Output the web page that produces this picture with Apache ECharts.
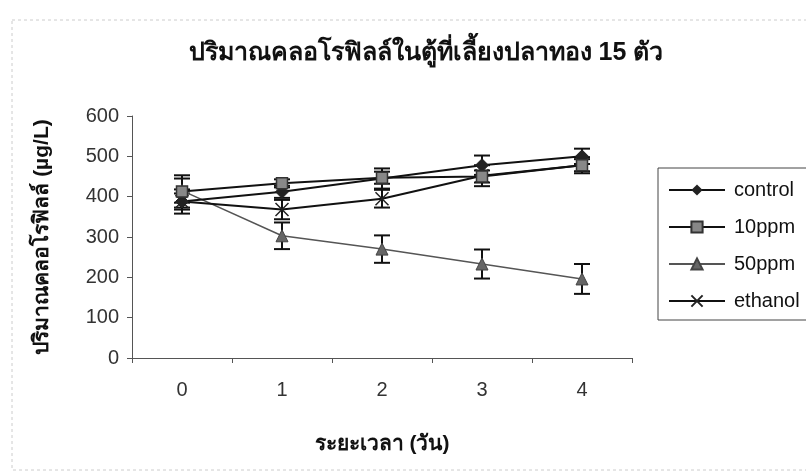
<!DOCTYPE html>
<html><head><meta charset="utf-8">
<script src="https://cdn.jsdelivr.net/npm/echarts@6/dist/echarts.min.js"></script>
<style>html,body{margin:0;padding:0;background:#fff}#c{width:806px;height:474px}</style>
</head><body><div id="c"></div>
<script>
const days = ['0', '1', '2', '3', '4'];
const yTicks = [0, 100, 200, 300, 400, 500, 600];
const seriesNames = ['control', '10ppm', '50ppm', 'ethanol'];
const control = [388, 412, 445, 478, 500];
const ppm10 = [413, 433, 447, 450, 478];
const ppm50 = [415, 303, 270, 233, 196];
const ethanol = [388, 368, 395, 452, 478];
const errControl = [30, 15, 25, 24, 19];
const errPpm10 = [40, 10, 15, 15, 20];
const errPpm50 = [30, 33, 34, 36, 37];
const errEthanol = [20, 24, 22, 26, 15];

const FONT = "'Liberation Sans', Arial, 'DejaVu Sans', 'Noto Sans', sans-serif";
const chart = echarts.init(document.getElementById('c'));

function errSeries(name, vals, errs) {
  return {
    type: 'custom', name: name + ' err', silent: true, z: 3,
    data: vals.map((v, i) => [i, v - errs[i], v + errs[i]]),
    renderItem: function (params, api) {
      const lo = api.coord([api.value(0), api.value(1)]);
      const hi = api.coord([api.value(0), api.value(2)]);
      const w = 8;
      const st = { stroke: '#111', lineWidth: 2 };
      return { type: 'group', children: [
        { type: 'line', shape: { x1: lo[0], y1: lo[1], x2: hi[0], y2: hi[1] }, style: st },
        { type: 'line', shape: { x1: lo[0] - w, y1: lo[1], x2: lo[0] + w, y2: lo[1] }, style: st },
        { type: 'line', shape: { x1: hi[0] - w, y1: hi[1], x2: hi[0] + w, y2: hi[1] }, style: st }
      ]};
    }
  };
}

const xPath = 'path://M0,0L10,10M10,0L0,10';

chart.setOption({
  animation: false,
  backgroundColor: '#fff',
  textStyle: { fontFamily: FONT },
  title: {
    text: 'ปริมาณคลอโรฟิลล์ในตู้ที่เลี้ยงปลาทอง 15 ตัว',
    left: 421, top: 36, textAlign: 'center',
    textStyle: { fontSize: 25, fontWeight: 'bold', color: '#111', fontFamily: FONT }
  },
  grid: { left: 132, right: 174, top: 116, bottom: 116, containLabel: false },
  legend: {
    orient: 'vertical', left: 663, top: 175, itemGap: 17,
    itemWidth: 56, itemHeight: 14, itemAlign: 'left',
    textStyle: { fontSize: 20, color: '#111', fontFamily: FONT, padding: [0, 0, 0, 4] },
    data: seriesNames
  },
  xAxis: {
    type: 'category', data: days, boundaryGap: true,
    name: 'ระยะเวลา (วัน)', nameLocation: 'middle', nameGap: 76,
    nameTextStyle: { fontSize: 21, fontWeight: 'bold', color: '#111', fontFamily: FONT },
    axisLine: { lineStyle: { color: '#555', width: 1 } },
    axisTick: { show: true, length: 5, lineStyle: { color: '#555' } },
    axisLabel: { fontSize: 20, color: '#333', margin: 22 }
  },
  yAxis: {
    type: 'value', min: 0, max: 600, interval: 100,
    name: 'ปริมาณคลอโรฟิลล์ (µg/L)', nameLocation: 'middle', nameGap: 79, nameRotate: 90,
    nameTextStyle: { fontSize: 21, fontWeight: 'bold', color: '#111', fontFamily: FONT },
    axisLine: { show: true, lineStyle: { color: '#555', width: 1 } },
    axisTick: { show: true, inside: false, length: 5, lineStyle: { color: '#555' } },
    splitLine: { show: false },
    axisLabel: { fontSize: 20, color: '#333', margin: 13,
      formatter: v => yTicks.includes(v) ? String(v) : '' }
  },
  graphic: [
    { type: 'rect', shape: { x: 658, y: 168, width: 160, height: 152 },
      style: { fill: 'none', stroke: '#444', lineWidth: 1 }, z: 100 },
    { type: 'rect', shape: { x: 12, y: 20, width: 800, height: 450 },
      style: { fill: 'none', stroke: '#ccc', lineWidth: 1, lineDash: [3, 3] }, z: 0 }
  ],
  series: [
    errSeries('control', control, errControl),
    errSeries('10ppm', ppm10, errPpm10),
    errSeries('50ppm', ppm50, errPpm50),
    errSeries('ethanol', ethanol, errEthanol),
    { name: 'control', type: 'line', data: control, z: 5,
      symbol: 'diamond', symbolSize: 13,
      lineStyle: { color: '#111', width: 2 },
      itemStyle: { color: '#222', borderColor: '#222' } },
    { name: '10ppm', type: 'line', data: ppm10, z: 6,
      symbol: 'rect', symbolSize: 11,
      lineStyle: { color: '#111', width: 2 },
      itemStyle: { color: '#888', borderColor: '#333', borderWidth: 1.5 } },
    { name: '50ppm', type: 'line', data: ppm50, z: 4,
      symbol: 'triangle', symbolSize: 12,
      lineStyle: { color: '#555', width: 1.5 },
      itemStyle: { color: '#666', borderColor: '#444', borderWidth: 1 } },
    { name: 'ethanol', type: 'line', data: ethanol, z: 5,
      symbol: xPath, symbolSize: 13,
      lineStyle: { color: '#111', width: 2 },
      itemStyle: { color: 'none', borderColor: '#222', borderWidth: 1.5 } }
  ]
});
</script></body></html>
